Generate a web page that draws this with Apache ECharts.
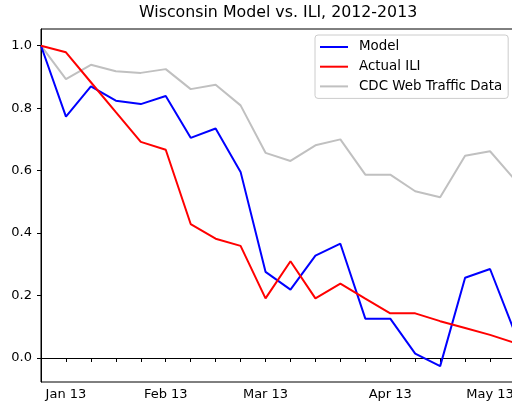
<!DOCTYPE html>
<html>
<head>
<meta charset="utf-8">
<script src="https://cdn.jsdelivr.net/npm/echarts@6/dist/echarts.min.js"></script>
<style>
  html, body { margin: 0; padding: 0; background: #fff; }
  #chart { width: 512px; height: 406px; }
</style>
</head>
<body>
<div id="chart"></div>
<script>
// weekly dates (week starting)
var weeks = ['2012-12-30', '2013-01-06', '2013-01-13', '2013-01-20', '2013-01-27',
  '2013-02-03', '2013-02-10', '2013-02-17', '2013-02-24', '2013-03-03',
  '2013-03-10', '2013-03-17', '2013-03-24', '2013-03-31', '2013-04-07',
  '2013-04-14', '2013-04-21', '2013-04-28', '2013-05-05', '2013-05-12'];

var model = [1.0, 0.773, 0.870, 0.824, 0.813, 0.839, 0.705, 0.735, 0.596, 0.276,
  0.219, 0.328, 0.366, 0.126, 0.126, 0.014, -0.026, 0.257, 0.285, 0.08];
var actualIli = [1.0, 0.979, 0.883, 0.787, 0.692, 0.667, 0.429, 0.382, 0.359, 0.191,
  0.310, 0.191, 0.238, 0.190, 0.143, 0.143, 0.118, 0.096, 0.074, 0.048];
var cdcWeb = [1.0, 0.893, 0.939, 0.918, 0.913, 0.925, 0.861, 0.875, 0.809, 0.657,
  0.631, 0.681, 0.700, 0.587, 0.587, 0.534, 0.515, 0.648, 0.662, 0.57];

var yTicks = [0.0, 0.2, 0.4, 0.6, 0.8, 1.0];
var monthNames = ['Jan', 'Feb', 'Mar', 'Apr', 'May', 'Jun', 'Jul', 'Aug', 'Sep', 'Oct', 'Nov', 'Dec'];

var font = 'DejaVu Sans';

function firstWeekOfMonth(value) {
  return parseInt(value.slice(8, 10), 10) <= 7;
}

var chart = echarts.init(document.getElementById('chart'));

var option = {
  animation: false,
  backgroundColor: '#fff',
  title: {
    text: 'Wisconsin Model vs. ILI, 2012-2013',
    left: 139,
    top: 5,
    padding: 0,
    textStyle: { fontFamily: font, fontSize: 15.8, fontWeight: 'normal', color: '#000' }
  },
  legend: {
    orient: 'vertical',
    left: 315,
    top: 35,
    padding: [5, 6, 5, 5],
    icon: 'rect',
    itemWidth: 28,
    itemHeight: 2,
    itemGap: 5.7,
    borderColor: '#cccccc',
    borderWidth: 1,
    borderRadius: 3,
    backgroundColor: 'rgba(255,255,255,0.8)',
    textStyle: { fontFamily: font, fontSize: 13.4, lineHeight: 14, color: '#000', padding: [0, 0, 0, 6] },
    data: ['Model', 'Actual ILI', 'CDC Web Traffic Data']
  },
  grid: {
    left: 41,
    top: 29,
    width: 474,
    height: 353,
    show: true,
    borderColor: '#000',
    borderWidth: 1,
    containLabel: false,
    outerBoundsMode: 'none'
  },
  xAxis: {
    type: 'category',
    data: weeks,
    boundaryGap: false,
    axisLine: { lineStyle: { color: '#000', width: 1 } },
    axisTick: { interval: 0, length: 4, inside: false, lineStyle: { color: '#000' } },
    axisLabel: {
      interval: function (index, value) { return firstWeekOfMonth(value); },
      formatter: function (value) {
        return monthNames[parseInt(value.slice(5, 7), 10) - 1] + ' ' + value.slice(2, 4);
      },
      margin: 6,
      fontFamily: font,
      fontSize: 13,
      color: '#000'
    },
    splitLine: { show: false }
  },
  yAxis: {
    type: 'value',
    min: -0.0768,
    max: 1.0535,
    axisLine: { show: true, lineStyle: { color: '#000', width: 1 } },
    axisTick: { show: true, length: 4, customValues: yTicks, lineStyle: { color: '#000' } },
    axisLabel: {
      customValues: yTicks,
      formatter: function (v) { return v.toFixed(1); },
      margin: 9,
      fontFamily: font,
      fontSize: 13,
      color: '#000'
    },
    splitLine: { show: false }
  },
  series: [
    {
      name: 'Model',
      type: 'line',
      data: model,
      symbol: 'none',
      lineStyle: { color: '#0000ff', width: 2 },
      itemStyle: { color: '#0000ff' }
    },
    {
      name: 'Actual ILI',
      type: 'line',
      data: actualIli,
      symbol: 'none',
      lineStyle: { color: '#ff0000', width: 2 },
      itemStyle: { color: '#ff0000' }
    },
    {
      name: 'CDC Web Traffic Data',
      type: 'line',
      data: cdcWeb,
      symbol: 'none',
      z: 1,
      lineStyle: { color: '#c0c0c0', width: 2 },
      itemStyle: { color: '#c0c0c0' }
    }
  ]
};

chart.setOption(option);
</script>
</body>
</html>
